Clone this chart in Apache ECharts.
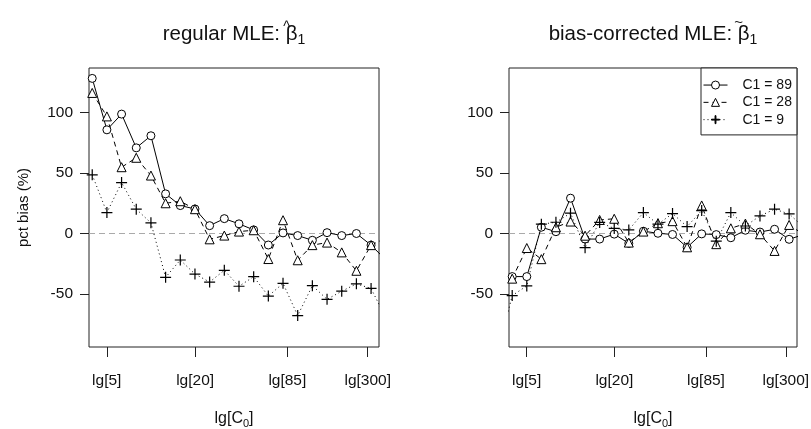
<!DOCTYPE html>
<html>
<head>
<meta charset="utf-8">
<script src="https://cdn.jsdelivr.net/npm/echarts@6/dist/echarts.min.js"></script>
<style>
  html, body { margin: 0; padding: 0; background: #fff; }
  #chart { width: 811px; height: 429px; }
</style>
</head>
<body>
<div id="chart"></div>
<script>
// x positions are lg(C0)
const xLog = [0.5, 0.6, 0.7, 0.8, 0.9, 1.0, 1.1, 1.2, 1.3, 1.4, 1.5, 1.6, 1.7, 1.8, 1.9, 2.0, 2.1, 2.2, 2.3, 2.4, 2.5, 2.6];
const tickC0 = [5, 20, 85, 300];
const yTicks = [-50, 0, 50, 100];
const names = ['C1 = 89', 'C1 = 28', 'C1 = 9'];

// regular MLE, pct bias
const reg89 = [null, 128, 85.5, 98.5, 70.6, 80.6, 32.6, 22.9, 20.1, 6.3, 12.1, 7.8, 2.8, -9.7, 0.3, -1.9, -5.8, 0.5, -1.9, -0.2, -9.8, -22];
const reg28 = [null, 116, 96.6, 54.6, 62.4, 47.7, 24.8, 26.5, 19.9, -5.0, -1.9, 1.4, 2.5, -21.3, 10.8, -22.3, -9.8, -7.7, -15.8, -31, -9.8, -4];
const reg9 = [null, 48.3, 17.1, 41.9, 19.9, 8.6, -36.4, -22.1, -33.7, -40.3, -30.6, -43.8, -35.9, -51.9, -41.4, -68, -43.3, -54.6, -47.9, -41.8, -45.6, -70];

// bias-corrected MLE, pct bias
const bc89 = [null, -35.8, -35.8, 5, 1.3, 29, -4.8, -4.8, -0.7, -8.3, 1.7, 0, -1, -11.6, -0.5, -1.1, -3.7, 2.5, 1, 3.3, -5, -1];
const bc28 = [null, -37.5, -12.2, -21.4, 5, 9.7, -2, 11, 12, -7.7, 1.4, 8.3, 10, -11.6, 23, -9, 4.1, 8, -0.8, -14.6, 6.9, -1];
const bc9 = [-100, -51.5, -43.5, 7.5, 9.1, 16.6, -11.9, 9, 4, 2.8, 17.1, 7.5, 16.3, 5.5, 18.8, -6.5, 17.1, 6, 14.3, 19.9, 16, 5];

const tickVals = tickC0.map(c => Math.log10(c));
const font = 'Liberation Sans, Arial, Helvetica, sans-serif';
const ink = '#111';
const plusPath = 'path://M4.45,0 H5.55 V4.45 H10 V5.55 H5.55 V10 H4.45 V5.55 H0 V4.45 H4.45 Z';

// open symbols: white fill with a thin black border (empty* symbols get a 2px stroke)
const styles = [
  { symbol: 'circle', size: 8, line: 'solid', fill: '#fff', bw: 1 },
  { symbol: 'triangle', size: 9, line: [5, 4], fill: '#fff', bw: 1 },
  { symbol: plusPath, size: 11, line: [1, 3], fill: '#000', bw: 0 }
];

function makeSeries(name, values, gi, st, withZero) {
  const s = {
    name: name,
    type: 'line',
    xAxisIndex: gi,
    yAxisIndex: gi,
    data: xLog.map((x, i) => [x, values[i]]),
    symbol: st.symbol,
    symbolSize: st.size,
    showAllSymbol: true,
    clip: true,
    color: '#000',
    itemStyle: { color: st.fill, borderColor: '#000', borderWidth: st.bw },
    lineStyle: { color: '#000', width: 1, type: st.line },
    z: 3
  };
  if (withZero) {
    s.markLine = {
      silent: true, symbol: 'none', z: 1,
      label: { show: false },
      lineStyle: { color: '#aaa', type: [6, 4], width: 1.2 },
      data: [{ yAxis: 0 }]
    };
  }
  return s;
}

function xAxisFor(gi) {
  return {
    gridIndex: gi, type: 'value', min: 0.578, max: 2.554,
    axisLine: { show: false, onZero: false },
    axisTick: { show: true, length: 10, customValues: tickVals, lineStyle: { color: '#222' } },
    axisLabel: {
      customValues: tickVals, margin: 26, fontSize: 15.5, color: ink, fontFamily: font,
      formatter: v => {
        const i = tickVals.findIndex(t => Math.abs(t - v) < 1e-6);
        return 'lg[' + tickC0[i] + ']';
      }
    },
    splitLine: { show: false },
    name: 'lg[C{sub|0}]', nameLocation: 'middle', nameGap: 62,
    nameTextStyle: {
      fontSize: 16, color: ink, fontFamily: font, lineHeight: 20,
      rich: { sub: { fontSize: 11, color: ink, fontFamily: font, verticalAlign: 'bottom', lineHeight: 14 } }
    }
  };
}

function yAxisFor(gi, name) {
  return {
    gridIndex: gi, type: 'value', min: -94, max: 136.6,
    axisLine: { show: false, onZero: false },
    axisTick: { show: true, length: 9, customValues: yTicks, lineStyle: { color: '#222' } },
    axisLabel: { customValues: yTicks, margin: 16, fontSize: 15.5, color: ink, fontFamily: font },
    splitLine: { show: false },
    name: name, nameLocation: 'middle', nameRotate: 90, nameGap: 58,
    nameTextStyle: { fontSize: 15, color: ink, fontFamily: font }
  };
}

// titles: "<label> β" + subscript 1, with an accent drawn over the β
const titleSize = 20.5;
const subSize = 14;
const measure = document.createElement('canvas').getContext('2d');
function textWidth(t, size) {
  measure.font = size + 'px ' + font;
  return measure.measureText(t).width;
}

function titleFor(label, cx) {
  return {
    text: label + '{b|\u03B2}{s|1}', left: cx, top: 16, textAlign: 'center',
    textStyle: {
      fontSize: titleSize, fontWeight: 'normal', color: ink, fontFamily: font, lineHeight: 26,
      rich: {
        b: { fontSize: titleSize, color: ink, fontFamily: font, lineHeight: 26 },
        s: { fontSize: subSize, color: ink, fontFamily: font, verticalAlign: 'bottom', lineHeight: 16 }
      }
    }
  };
}

function accentFor(label, cx, mark, size, y) {
  const total = textWidth(label + '\u03B2', titleSize) + textWidth('1', subSize);
  const bx = cx - total / 2 + textWidth(label, titleSize) + textWidth('\u03B2', titleSize) / 2;
  return {
    type: 'text', x: bx, y: y, z: 10,
    style: { text: mark, fontSize: size, fontFamily: font, fill: ink, textAlign: 'center', textVerticalAlign: 'middle' }
  };
}

const titles = [
  { label: 'regular MLE: ', cx: 229, mark: '^', size: 14, y: 27 },
  { label: 'bias-corrected MLE: ', cx: 648, mark: '~', size: 15, y: 23 }
];

const myChart = echarts.init(document.getElementById('chart'));

const option = {
  animation: false,
  backgroundColor: '#fff',
  textStyle: { fontFamily: font },
  title: titles.map(t => titleFor(t.label, t.cx)),
  graphic: titles.map(t => accentFor(t.label, t.cx, t.mark, t.size, t.y)),
  legend: {
    data: names, orient: 'vertical', left: 701, top: 68,
    itemWidth: 24, itemHeight: 10, itemGap: 0,
    padding: [8.4, 5, 6.6, 2],
    borderColor: '#222', borderWidth: 1, borderRadius: 0, backgroundColor: '#fff',
    lineStyle: { width: 1 },
    itemStyle: { borderWidth: 1 },
    textStyle: { fontSize: 14, lineHeight: 17.3, color: ink, fontFamily: font, padding: [0, 0, 0, 10] },
    z: 10
  },
  grid: [
    { left: 89, right: 432, top: 68, bottom: 82, show: true, borderColor: '#222', borderWidth: 1, containLabel: false, outerBoundsMode: 'none' },
    { left: 509, right: 14, top: 68, bottom: 82, show: true, borderColor: '#222', borderWidth: 1, containLabel: false, outerBoundsMode: 'none' }
  ],
  xAxis: [xAxisFor(0), xAxisFor(1)],
  yAxis: [yAxisFor(0, 'pct bias (%)'), yAxisFor(1, '')],
  series: [
    makeSeries(names[0], reg89, 0, styles[0], true),
    makeSeries(names[1], reg28, 0, styles[1], false),
    makeSeries(names[2], reg9, 0, styles[2], false),
    makeSeries(names[0], bc89, 1, styles[0], true),
    makeSeries(names[1], bc28, 1, styles[1], false),
    makeSeries(names[2], bc9, 1, styles[2], false)
  ]
};

option && myChart.setOption(option);
window.addEventListener('resize', function () {
  myChart.resize();
});
</script>
</body>
</html>
